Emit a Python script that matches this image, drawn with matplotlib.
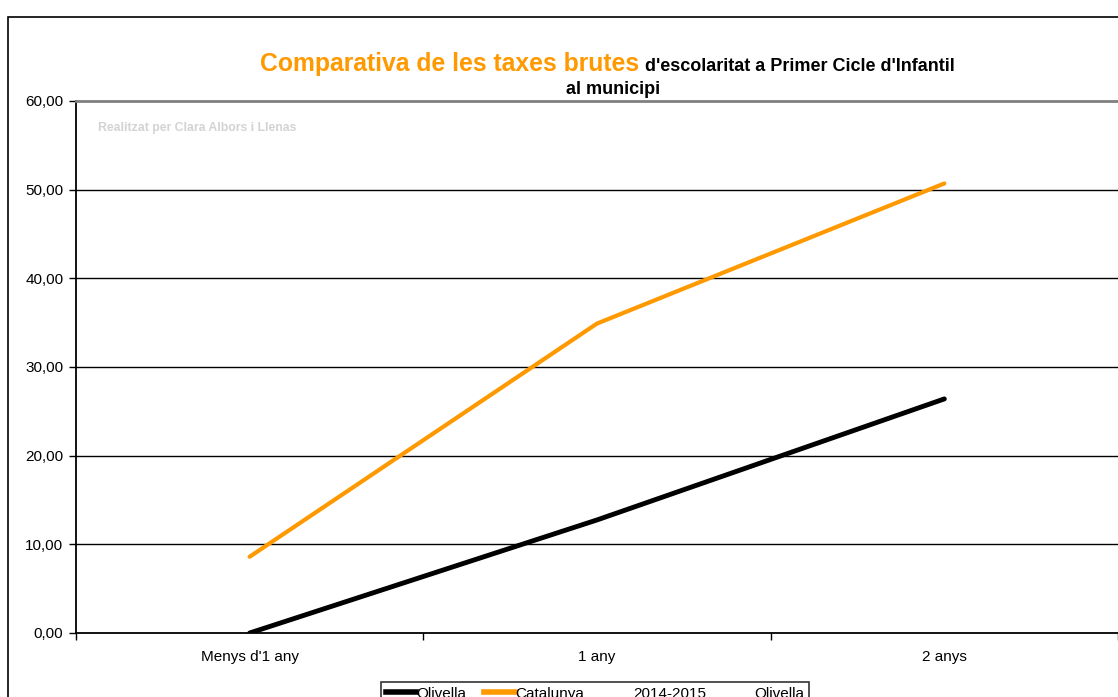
import numpy as np
import matplotlib.pyplot as plt
from matplotlib.lines import Line2D
from matplotlib.patches import Rectangle

plt.rcParams['font.family'] = ['Liberation Sans', 'DejaVu Sans']

categories = ["Menys d'1 any", "1 any", "2 anys"]
olivella = [0.0, 12.75, 26.4]
catalunya = [8.6, 34.9, 50.7]
yticks = [0, 10, 20, 30, 40, 50, 60]
legend_labels = ['Olivella', 'Catalunya', '2014-2015', 'Olivella']

fig = plt.figure(figsize=(11.18, 6.97), dpi=100)
ax = fig.add_axes([76 / 1118, 1 - 633 / 697, 1 - 76 / 1118, (633 - 101) / 697])

x = np.arange(len(categories))
ax.plot(x, olivella, color='black', lw=3.5, solid_capstyle='round')
ax.plot(x, catalunya, color='#ff9900', lw=3.0, solid_capstyle='round')

ax.set_xlim(-0.5, len(categories) - 0.5)
ax.set_ylim(0, 60)
ax.set_yticks(yticks)
ax.set_yticklabels([f'{v:.2f}'.replace('.', ',') for v in yticks], fontsize=11)
for v in yticks[1:-1]:
    ax.axhline(v, color='black', lw=1.0, zorder=0)

ax.set_xticks(np.arange(len(categories) + 1) - 0.5)
ax.set_xticklabels([])
ax.set_xticks(x, minor=True)
ax.set_xticklabels(categories, minor=True, fontsize=11)
ax.tick_params(axis='x', which='minor', length=0, pad=12)
ax.tick_params(axis='x', which='major', length=5, width=1, direction='out')
ax.tick_params(axis='y', length=5, width=1, direction='out', pad=4)

ax.spines['right'].set_visible(False)
ax.spines['top'].set_color('#808080')
ax.spines['top'].set_linewidth(2)
ax.spines['left'].set_linewidth(1.3)
ax.spines['bottom'].set_linewidth(1.3)

ax.text(0.021, 0.96, 'Realitzat per Clara Albors i Llenas', transform=ax.transAxes,
        color='#d3d3d3', fontsize=8.8, fontweight='bold', va='top',
        family=['Liberation Sans Narrow', 'Liberation Sans'])

# title
fig.text(639 / 1118, 1 - 71 / 697, 'Comparativa de les taxes brutes', color='#ff9900',
         fontsize=17.8, fontweight='bold', ha='right', va='baseline')
fig.text(645 / 1118, 1 - 71 / 697, "d'escolaritat a Primer Cicle d'Infantil",
         fontsize=13, fontweight='bold', ha='left', va='baseline')
fig.text(613 / 1118, 1 - 94 / 697, 'al municipi', fontsize=13, fontweight='bold',
         ha='center', va='baseline')

# outer frame
fig.patches.append(Rectangle((8 / 1118, -0.2), 1.5, (697 - 17) / 697 + 0.2,
                             transform=fig.transFigure, fill=False, edgecolor='black',
                             lw=1.2, clip_on=False))

handles = [Line2D([], [], color='black', lw=4),
           Line2D([], [], color='#ff9900', lw=4),
           Line2D([], [], color='none'),
           Line2D([], [], color='none')]
leg = fig.legend(handles, legend_labels, ncol=4, loc='upper left',
                 bbox_to_anchor=(381 / 1118, 1 - 682 / 697), fontsize=11,
                 frameon=True, fancybox=False, edgecolor='black',
                 handlelength=2.0, handletextpad=0.0, columnspacing=1.2,
                 borderpad=0.3, borderaxespad=0)
leg.get_frame().set_linewidth(1.2)

fig.savefig('out.png', dpi=100)
